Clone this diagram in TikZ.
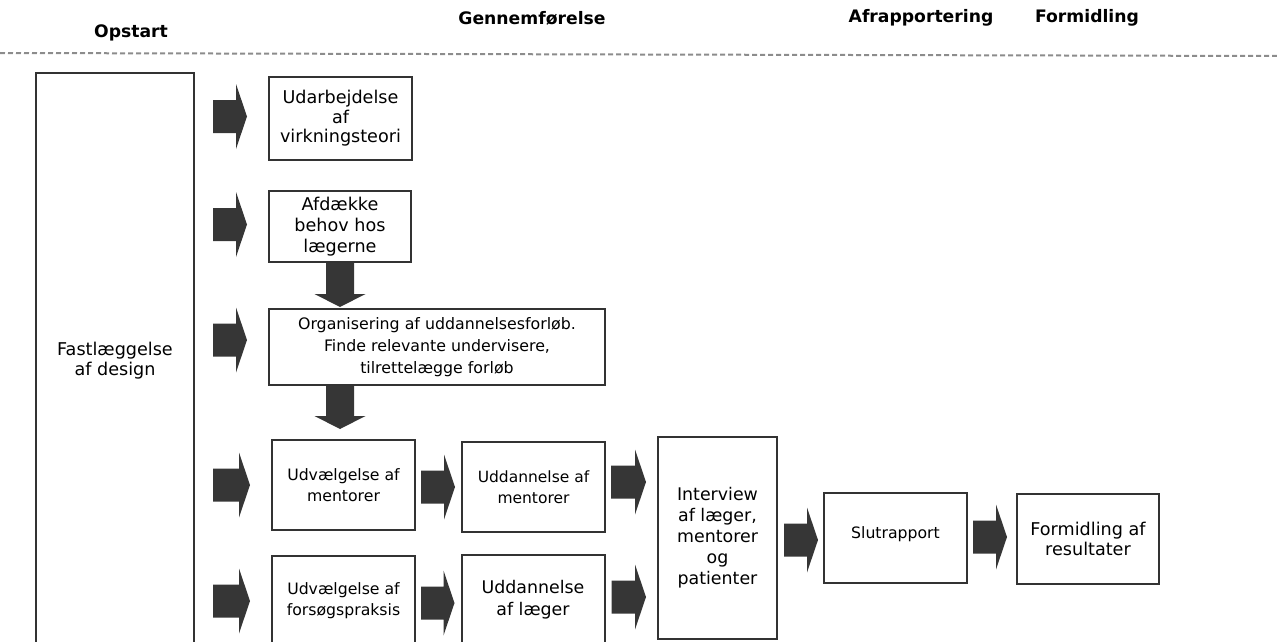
\documentclass[tikz,border=0pt]{standalone}
\usepackage{fontspec}
\setmainfont{DejaVu Sans}
\usetikzlibrary{calc, positioning}
\definecolor{boxline}{HTML}{333333}
\definecolor{arrfill}{HTML}{363636}
\definecolor{dashgray}{HTML}{8C8C8C}

% block arrow pointing right: tail, tip
\newcommand{\rightblock}[2]{%
  \fill[arrfill] let \p1=(#1), \p2=(#2) in
    (\x1,\y1+16.5pt) -- (\x2-11pt,\y1+16.5pt) -- (\x2-11pt,\y1+32.5pt) -- (\x2,\y1)
    -- (\x2-11pt,\y1-32.5pt) -- (\x2-11pt,\y1-16.5pt) -- (\x1,\y1-16.5pt) -- cycle;}
% block arrow pointing down: tail, tip
\newcommand{\downblock}[2]{%
  \fill[arrfill] let \p1=(#1), \p2=(#2) in
    (\x1-14pt,\y1) -- (\x1-14pt,\y2+13pt) -- (\x1-25.5pt,\y2+13pt) -- (\x1,\y2)
    -- (\x1+25.5pt,\y2+13pt) -- (\x1+14pt,\y2+13pt) -- (\x1+14pt,\y1) -- cycle;}

\begin{document}
\begin{tikzpicture}[
  x=1pt, y=-1pt,
  box/.style={draw=boxline, line width=2pt, fill=white, inner sep=2pt, align=center,
              minimum width=143pt, minimum height=90pt,
              font=\fontsize{15.7}{21}\selectfont},
  large/.style={font=\fontsize{17.6}{20.5}\selectfont},
  phase/.style={font=\fontsize{17.2}{20}\selectfont\bfseries}
]
  \useasboundingbox (0,0) rectangle (1277,642);
  \clip (0,0) rectangle (1277,642);

  % phases
  \node[phase] (opstart) at (131,33) {Opstart};
  \node[phase] (gennem) at (532,18) {Gennemførelse};
  \node[phase] (afrap) at (921,18) {Afrapportering};
  \node[phase] (formhead) at (1087,18) {Formidling};
  \coordinate (rulel) at (0,53);
  \coordinate (ruler) at (1277,56);
  \draw[dashgray, line width=2pt, dash pattern=on 5pt off 3pt] (rulel) -- (ruler);

  % boxes
  \node[box, large, minimum width=158pt, minimum height=572pt, text depth=0pt] (design) at (115,359)
    {Fastlæggelse\\af design};
  \node[box, large, minimum height=83pt, font=\fontsize{17.6}{19.5}\selectfont] (udarb) at (340.5,118.5)
    {Udarbejdelse\\af\\virkningsteori};
  \node[box, large, minimum width=142pt, minimum height=71pt, font=\fontsize{17.6}{21}\selectfont] (afdaek) at (340,226.5)
    {Afdække\\behov hos\\lægerne};
  \node[box, minimum width=336pt, minimum height=76pt, font=\fontsize{15.8}{22}\selectfont] (organ) at (437,347)
    {Organisering af uddannelsesforløb.\\Finde relevante undervisere,\\tilrettelægge forløb};
  \node[box] (udvm) at (343.5,485) {Udvælgelse af\\mentorer};
  \node[box, font=\fontsize{15.5}{21}\selectfont] (uddm) at (533.5,487) {Uddannelse af\\mentorer};
  \node[box] (udvf) at (343.5,601) {Udvælgelse af\\forsøgspraksis};
  \node[box, large, font=\fontsize{17.4}{22}\selectfont] (uddl) at (533,600) {Uddannelse\\af læger};
  \node[box, large, minimum width=119pt, minimum height=202pt, font=\fontsize{17.4}{21}\selectfont] (interv) at (717.5,538)
    {Interview\\af læger,\\mentorer\\og\\patienter};
  \node[box] (slut) at (895.5,538) {\raisebox{10pt}{Slutrapport}};
  \node[box, large, minimum width=142pt, font=\fontsize{17.6}{20}\selectfont] (formid) at (1088,539)
    {Formidling af\\resultater};

  % arrows from design
  \rightblock{$(design.east |- udarb.west)+(18,-2)$}{$(udarb.west)+(-21,-2)$}
  \rightblock{$(design.east |- afdaek.west)+(18,-2)$}{$(afdaek.west)+(-21,-2)$}
  \rightblock{$(design.east |- organ.west)+(18,-7)$}{$(organ.west)+(-21,-7)$}
  \rightblock{$(design.east |- udvm.west)+(18,0)$}{$(udvm.west)+(-21,0)$}
  \rightblock{$(design.east |- udvf.west)+(18,0)$}{$(udvf.west)+(-21,0)$}

  % flow
  \downblock{afdaek.south}{$(organ.north -| afdaek.south)+(0,-1)$}
  \downblock{organ.south -| afdaek.south}{$(udvm.north -| afdaek.south)+(0,-10)$}
  \rightblock{$(udvm.east |- uddm.west)+(5,0)$}{$(uddm.west)+(-6,0)$}
  \rightblock{$(udvf.east |- uddl.west)+(5,3)$}{$(uddl.west)+(-6,3)$}
  \rightblock{$(uddm.east)+(5,-5)$}{$(interv.west |- uddm.east)+(-11,-5)$}
  \rightblock{$(uddl.east)+(6,-3)$}{$(interv.west |- uddl.east)+(-11,-3)$}
  \rightblock{$(interv.east |- slut.west)+(6,2)$}{$(slut.west)+(-5,2)$}
  \rightblock{$(slut.east |- formid.west)+(5,-2)$}{$(formid.west)+(-9,-2)$}
\end{tikzpicture}
\end{document}
